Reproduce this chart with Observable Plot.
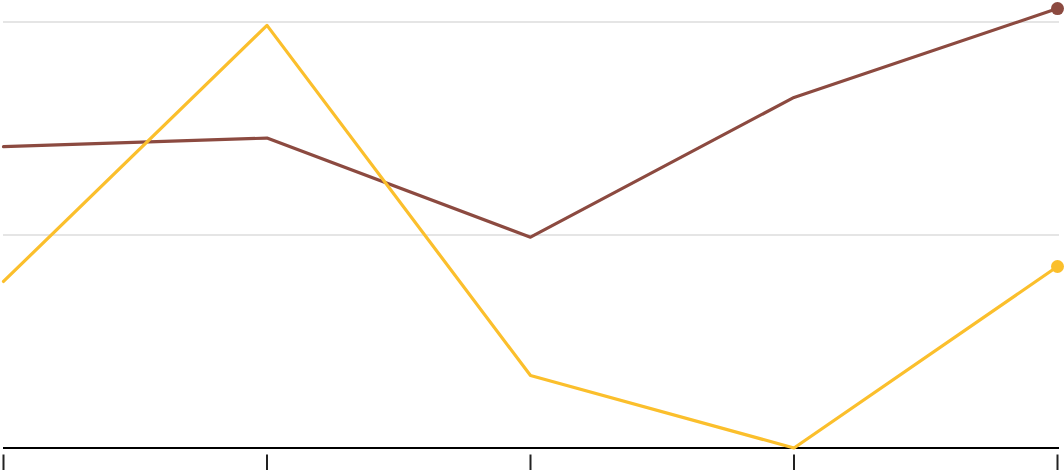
<!DOCTYPE html>
<html>
<head>
<meta charset="utf-8">
<script src="https://cdn.jsdelivr.net/npm/d3@7"></script>
<script src="https://cdn.jsdelivr.net/npm/@observablehq/plot@0.6"></script>
<style>
  html, body { margin: 0; padding: 0; background: #fff; }
  svg { display: block; }
</style>
</head>
<body>
<div id="chart"></div>
<script>
const periods = [0, 1, 2, 3, 4];
const seriesNames = ["Series A", "Series B"];
const seriesAValues = [141.5, 145.5, 99, 164.6, 206.3];
const seriesBValues = [78.2, 198.4, 34, 0, 85.2];
const gridValues = [100, 200];
const seriesColors = ["#8c4a40", "#fbbf2c"];

const rows = [
  ...periods.map((p, i) => ({ period: p, value: seriesAValues[i], series: seriesNames[0] })),
  ...periods.map((p, i) => ({ period: p, value: seriesBValues[i], series: seriesNames[1] }))
];
const lastRows = rows.filter(d => d.period === periods[periods.length - 1]);

const chart = Plot.plot({
  width: 1064,
  height: 470,
  marginLeft: 3,
  marginRight: 7,
  marginTop: 21.5,
  marginBottom: 22.5,
  x: { type: "linear", domain: [0, 4], ticks: periods, label: null },
  y: { domain: [0, 200], axis: null },
  color: { domain: seriesNames, range: seriesColors },
  marks: [
    Plot.ruleY(gridValues, { stroke: "#dddddd", strokeWidth: 1.5, insetRight: -2 }),
    Plot.ruleY([0], { stroke: "#000", strokeWidth: 2, insetRight: -2 }),
    Plot.axisX({ ticks: periods, tickSize: 16, dy: 7, tickFormat: () => "", label: null, stroke: "#222", strokeWidth: 2 }),
    Plot.line(rows, { x: "period", y: "value", z: "series", stroke: "series", strokeWidth: 3.2 }),
    Plot.dot(lastRows, { x: "period", y: "value", fill: "series", r: 6.5 })
  ]
});
document.getElementById("chart").appendChild(chart);
</script>
</body>
</html>
